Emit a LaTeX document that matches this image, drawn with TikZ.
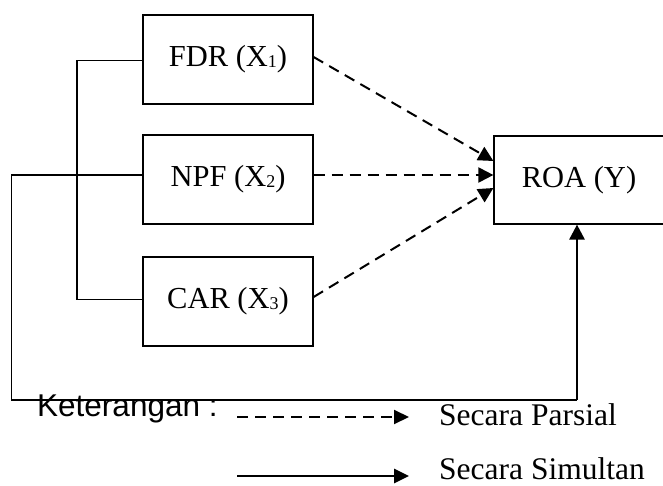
\documentclass[tikz,border=0pt]{standalone}
\usepackage{fontspec}
\setmainfont{Liberation Serif}
\setsansfont{Liberation Sans}
\usetikzlibrary{arrows.meta}
\newcommand\sbx[1]{\raisebox{-1pt}{\fontsize{18}{18}\selectfont #1}}
\begin{document}
\begin{tikzpicture}[x=1pt,y=-1pt,
  box/.style={draw,line width=1.2pt,minimum width=170pt,minimum height=89pt,inner sep=0pt,
    font=\fontsize{30.5}{36}\selectfont},
  thin/.style={line width=1.2pt},
  part/.style={line width=2pt,dash pattern=on 11pt off 7pt,-{Triangle[length=15pt,width=15pt]}},
  simul/.style={line width=2.8pt,-{Triangle[length=15pt,width=15pt]}},
  legtext/.style={anchor=base west,inner sep=0pt,font=\fontsize{31.5}{36}\selectfont}]
\useasboundingbox (0,0) rectangle (663,486);
\node[box] (fdr) at (228,59.5) {FDR (X\sbx{1})};
\node[box] (npf) at (228,179.5) {NPF (X\sbx{2})};
\node[box] (car) at (228,301.5) {CAR (X\sbx{3})};
\node[box,minimum height=88pt] (roa) at (579,180) {ROA (Y)};
% bracket
\coordinate (bt) at (77,60.5);
\coordinate (bb) at (77,299.5);
\draw[thin] (fdr.west |- bt) -- (bt) -- (bb) -- (car.west |- bb);
% simultaneous path
\coordinate (l1) at (11.5,175);
\coordinate (l2) at (11.5,400);
\coordinate (l3) at (577,400);
\draw[thin] (npf.west |- l1) -- (l1) -- (l2) -- (l3);
\draw[simul] (l3) -- (l3 |- roa.south);
% partial arrows
\draw[part] ([yshift=2.5pt]fdr.east) -- ([yshift=19pt]roa.west);
\draw[part] ([yshift=4.5pt]npf.east) -- ([yshift=5pt]roa.west);
\draw[part] ([yshift=4.5pt]car.east) -- ([yshift=-8pt]roa.west);
% legend
\node[legtext,font=\sffamily\fontsize{31.5}{36}\selectfont] (ket) at (37,416) {Keterangan :};
\coordinate (d1) at (237,417);
\coordinate (d2) at (409,417);
\coordinate (s1) at (237,476);
\coordinate (s2) at (409,476);
\draw[line width=2pt,dash pattern=on 11pt off 7pt,-{Triangle[length=15pt,width=14pt]}] (d1) -- (d2);
\draw[line width=2.8pt,-{Triangle[length=15pt,width=14pt]}] (s1) -- (s2);
\node[legtext] (lp) at (439,425) {Secara Parsial};
\node[legtext] (ls) at (439,479) {Secara Simultan};
\end{tikzpicture}
\end{document}
